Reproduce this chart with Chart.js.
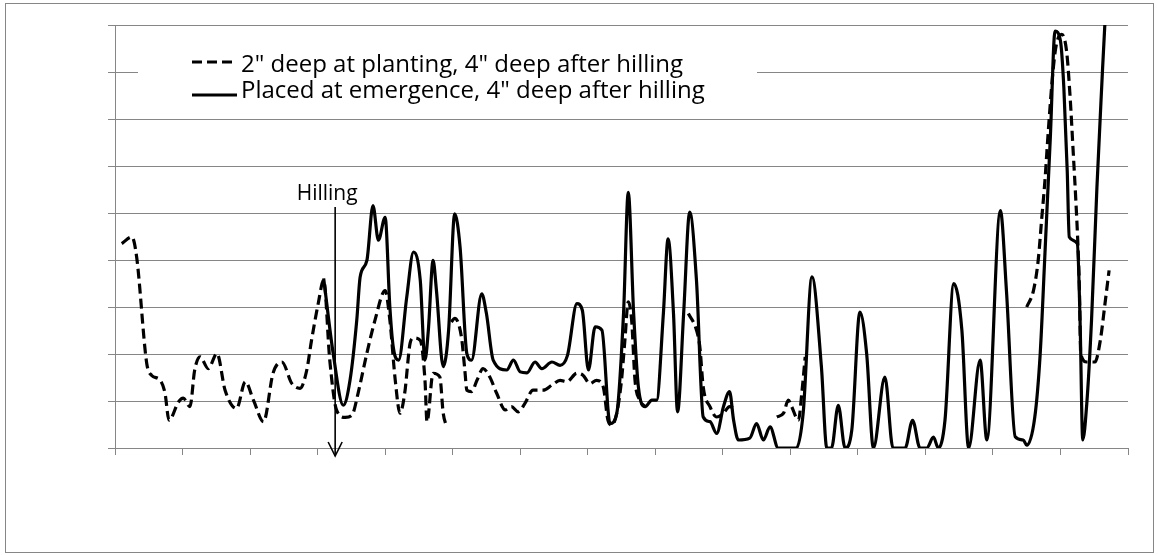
<!DOCTYPE html>
<html>
<head>
<meta charset="utf-8">
<script src="https://cdn.jsdelivr.net/npm/chart.js@4.4.1/dist/chart.umd.min.js"></script>
<style>
  html, body { margin: 0; padding: 0; background: #fff; }
  #wrap { position: relative; width: 1158px; height: 555px; }
</style>
</head>
<body>
<div id="wrap"><canvas id="chart"></canvas></div>
<script>
// series names (legend)
const seriesNames = ['2" deep at planting, 4" deep after hilling', 'Placed at emergence, 4" deep after hilling'];

// dashed series: day position and value (null = no reading, line breaks)
const dashedDays = [1.0, 2.5, 3.2, 4.7, 5.4, 6.7, 7.4, 8.0, 9.4, 10.1,
  11.1, 11.8, 12.6, 13.8, 15.1, 16.3, 18.0, 19.3, 20.5, 22.0,
  23.4, 24.7, 26.2, 27.4, 28.4, 29.1, 30.1, 30.9, 31.8, 32.8,
  34.1, 35.1, 36.0, 37.3, 38.5, 40.0, 40.7, 41.5, 42.2, 42.9,
  43.7, 44.2, 45.2, 45.9, 46.2, 47.1, 48.1, 48.6, 49.1, 49.45,
  49.8, 50.3, 51.3, 51.8, 52.1, 52.8, 53.6, 54.5, 55.5, 56.5,
  57.8, 58.7, 59.7, 60.7, 61.9, 63.4, 64.7, 65.9, 66.9, 68.4,
  69.3, 70.3, 71.3, 72.3, 73.0, 73.6, 74.3, 75.0, 75.5, 76.0,
  76.5, 77.0, 77.7, 78.5, 80, 84.9, 86.1, 86.6, 87.1, 88.1,
  89.1, 90.1, 91.0, 92.1, 95, 98.0, 99.0, 99.7, 100.2, 101.2,
  101.7, 102.2, 120, 135.0, 136.0, 136.7, 137.2, 137.7, 138.2, 138.9,
  139.4, 140.2, 140.9, 141.4, 141.9, 142.3, 142.6, 142.8, 143.0, 143.9,
  145.1, 145.9, 146.6, 147.2];
const dashedVals = [4.35, 4.49, 4.07, 1.80, 1.55, 1.44, 1.17, 0.59, 0.98, 1.06,
  0.88, 1.66, 1.94, 1.69, 2.01, 1.23, 0.84, 1.41, 1.02, 0.56,
  1.59, 1.83, 1.37, 1.27, 1.66, 2.29, 3.08, 3.57, 1.87, 0.81,
  0.65, 0.70, 1.17, 2.02, 2.72, 3.35, 2.72, 1.44, 0.74, 1.17,
  2.23, 2.34, 2.29, 1.44, 0.56, 1.59, 1.51, 0.74, 0.45, null,
  2.68, 2.76, 2.36, 1.66, 1.23, 1.20, 1.44, 1.69, 1.51, 1.17,
  0.81, 0.88, 0.77, 0.95, 1.23, 1.23, 1.34, 1.44, 1.41, 1.59,
  1.55, 1.37, 1.44, 1.30, 0.59, 0.49, 0.74, 1.44, 2.29, 3.11,
  2.72, 1.44, 1.02, 0.88, null, 2.86, 2.51, 2.15, 1.30, 0.88,
  0.66, 0.74, 0.88, 0.81, null, 0.66, 0.74, 1.02, 0.88, 0.59,
  1.17, 1.94, null, 3.00, 3.35, 3.99, 4.84, 5.69, 6.75, 8.03,
  8.59, 8.80, 8.45, 7.53, 6.26, 5.20, 4.27, 3.42, 2.01, 1.83,
  1.83, 2.29, 3.08, 3.78];

// solid series
const solidDays = [30.9, 32.3, 33.8, 34.8, 35.8, 36.3, 37.3, 38.2, 39.0, 40.0,
  40.7, 41.2, 42.0, 43.2, 44.2, 45.2, 45.9, 46.4, 47.1, 47.6,
  48.6, 49.4, 50.3, 51.1, 52.1, 52.8, 54.3, 55.0, 56.0, 58.0,
  59.0, 60.0, 61.0, 62.2, 63.2, 64.7, 65.9, 67.0, 68.4, 69.2,
  70.1, 71.1, 72.1, 73.3, 74.3, 75.3, 76.0, 76.8, 77.5, 78.5,
  79.5, 80.2, 81.2, 81.9, 82.7, 83.3, 84.2, 85.1, 86.1, 87.1,
  88.1, 89.1, 90.1, 91.0, 91.6, 92.3, 94.0, 95.0, 96.0, 97.0,
  98.2, 100.9, 101.9, 103.2, 104.6, 105.4, 106.1, 107.1, 108.1, 109.1,
  110.3, 111.3, 112.3, 114.0, 115.2, 117.0, 118.1, 119.2, 120.2, 121.2,
  121.9, 122.9, 124.2, 125.4, 126.4, 128.1, 129.1, 131.1, 132.0, 133.3,
  134.5, 135.0, 136.2, 137.0, 137.7, 138.5, 139.2, 140.0, 140.5, 141.0,
  141.3, 142.5, 142.9, 143.3, 143.9, 144.6, 145.4, 146.1, 146.6, 147.2];
const solidVals = [3.61, 2.02, 0.91, 1.44, 2.72, 3.64, 3.99, 5.16, 4.42, 4.91,
  3.00, 2.15, 1.87, 3.21, 4.17, 3.57, 1.87, 2.51, 3.99, 3.35,
  1.73, 2.51, 4.98, 4.27, 2.01, 1.87, 3.28, 2.86, 1.87, 1.66,
  1.87, 1.62, 1.60, 1.83, 1.69, 1.83, 1.76, 1.97, 3.07, 2.93,
  1.66, 2.58, 2.51, 0.52, 0.74, 2.86, 5.44, 2.86, 1.30, 0.88,
  1.02, 1.02, 2.86, 4.45, 2.86, 0.77, 2.86, 5.02, 3.57, 0.66,
  0.56, 0.31, 0.88, 1.20, 0.59, 0.17, 0.21, 0.52, 0.17, 0.45,
  0, 0, 0.74, 3.64, 1.73, 0, 0, 0.91, 0, 0.38,
  2.89, 2.01, 0, 1.51, 0, 0, 0.59, 0, 0, 0.23,
  0, 0.59, 3.50, 2.51, 0, 1.87, 0.17, 5.05, 3.35, 0.24,
  0.17, 0.06, 0.66, 2.01, 4.13, 6.61, 8.87, 8.66, 7.67, 5.90,
  4.49, 4.35, 2.72, 0.17, 0.95, 2.72, 5.55, 7.67, 9.09, 10.2];

// annotation
const hillingDay = 32.6;

// axis ranges (no tick labels are printed)
const xRange = [0, 150];
const xStep = 10;
const yRange = [0, 9];
const yStep = 1;

const gridGrey = '#868686';
const fontFam = '"Open Sans", Lato, sans-serif';

function toPoints(days, vals) {
    return days.map((d, i) => ({ x: d, y: vals[i] }));
}

const decor = {
    id: 'decor',
    beforeDatasetsDraw(chart) {
        // white legend box covering the grid line behind it
        const { ctx, chartArea: a } = chart;
        ctx.save();
        ctx.fillStyle = '#fff';
        ctx.fillRect(a.left + 23, 40, 619, 73);
        ctx.restore();
    },
    afterDraw(chart) {
        const { ctx, chartArea: a } = chart;
        ctx.save();

        // legend
        const sx = a.left + 77;
        ctx.strokeStyle = '#000';
        ctx.lineWidth = 3;
        ctx.setLineDash([10, 5]);
        ctx.beginPath();
        ctx.moveTo(sx, 62);
        ctx.lineTo(sx + 41, 62);
        ctx.stroke();
        ctx.setLineDash([]);
        ctx.beginPath();
        ctx.moveTo(sx, 95);
        ctx.lineTo(sx + 45, 95);
        ctx.stroke();

        ctx.fillStyle = '#000';
        ctx.font = '24px ' + fontFam;
        ctx.textBaseline = 'alphabetic';
        ctx.textAlign = 'left';
        ctx.fillText(seriesNames[0], sx + 49, 72);
        ctx.fillText(seriesNames[1], sx + 49, 98);

        // Hilling arrow
        const hx = chart.scales.x.getPixelForValue(hillingDay);
        ctx.font = '21px ' + fontFam;
        ctx.textAlign = 'center';
        ctx.fillText('Hilling', hx - 8, 200);
        ctx.lineWidth = 1.6;
        ctx.beginPath();
        ctx.moveTo(hx, 207);
        ctx.lineTo(hx, a.bottom + 8);
        ctx.stroke();
        ctx.beginPath();
        ctx.moveTo(hx - 7, a.bottom - 6);
        ctx.lineTo(hx, a.bottom + 8);
        ctx.lineTo(hx + 7, a.bottom - 6);
        ctx.stroke();

        // outer frame
        ctx.strokeStyle = gridGrey;
        ctx.lineWidth = 1;
        ctx.strokeRect(5.5, 3.5, 1148, 549);
        ctx.restore();
    }
};

new Chart(document.getElementById('chart'), {
    type: 'line',
    data: {
        datasets: [{
            label: seriesNames[0],
            data: toPoints(dashedDays, dashedVals),
            borderColor: '#000',
            borderWidth: 3.2,
            borderDash: [10, 5],
            pointRadius: 0,
            cubicInterpolationMode: 'monotone',
            spanGaps: false,
            fill: false
        }, {
            label: seriesNames[1],
            data: toPoints(solidDays, solidVals),
            borderColor: '#000',
            borderWidth: 3.2,
            pointRadius: 0,
            cubicInterpolationMode: 'monotone',
            fill: false
        }]
    },
    options: {
        responsive: true,
        maintainAspectRatio: false,
        animation: false,
        layout: { padding: { left: 108, right: 30, top: 25, bottom: 100 } },
        plugins: {
            legend: { display: false },
            tooltip: { enabled: false }
        },
        scales: {
            x: {
                type: 'linear',
                min: xRange[0],
                max: xRange[1],
                ticks: { display: false, stepSize: xStep, maxTicksLimit: 30 },
                grid: { drawOnChartArea: false, drawTicks: true, tickLength: 7, color: gridGrey },
                border: { color: gridGrey }
            },
            y: {
                min: yRange[0],
                max: yRange[1],
                ticks: { display: false, stepSize: yStep },
                grid: { color: gridGrey, tickLength: 7 },
                border: { color: gridGrey }
            }
        }
    },
    plugins: [decor]
});
</script>
</body>
</html>
